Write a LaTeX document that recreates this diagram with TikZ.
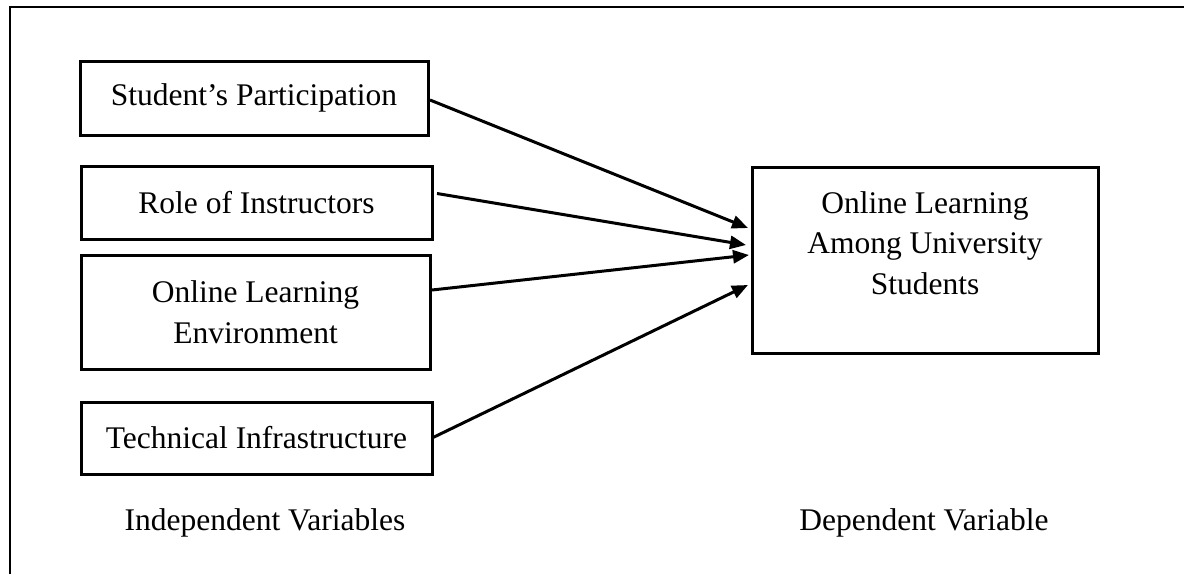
\documentclass[tikz,border=0pt]{standalone}
\usepackage{fontspec}
\setmainfont{Liberation Serif}
\usetikzlibrary{arrows.meta,calc}
\begin{document}
\begin{tikzpicture}[x=0.5pt,y=-0.5pt,
  every node/.style={font=\fontsize{15.75pt}{20.25pt}\selectfont, inner sep=0pt, outer sep=0pt},
  varbox/.style={draw, line width=1.5pt, align=center},
  conn/.style={line width=1.5pt, -{Triangle[length=8pt,width=6.5pt]}},
  frameline/.style={line width=1pt}]
\useasboundingbox (0,0) rectangle (1184,574);
% outer frame (top and left)
\coordinate (ftl) at (9.5,7);
\coordinate (ftr) at (1184,7);
\coordinate (fbl) at (9.5,574);
\draw[frameline] (ftr) -- (ftl) -- (fbl);
% independent variable boxes
\node[varbox, minimum width=174pt, minimum height=37pt] (b1) at (254,98) {Student’s Participation};
\node[varbox, minimum width=175.5pt, minimum height=36.5pt] (b2) at (256.5,202.5) {Role of Instructors};
\node[varbox, minimum width=174.5pt, minimum height=57pt] (b3) at (255.5,312) {Online Learning\\Environment};
\node[varbox, minimum width=175.5pt, minimum height=36pt] (b4) at (256.5,438) {Technical Infrastructure};
% dependent variable box
\node[varbox, minimum width=173pt, minimum height=93pt] (dv) at (925,260) {};
\node[align=center] (dvtext) at (925,243) {Online Learning\\Among University\\Students};
% captions
\node (ivcap) at (265,523) {Independent Variables};
\node (dvcap) at (924,523) {Dependent Variable};
% connector end points
\coordinate (s1) at ($(b1.east)+(2,2)$);
\coordinate (s2) at ($(b2.east)+(5,-9)$);
\coordinate (s3) at ($(b3.east)+(2,-22)$);
\coordinate (s4) at ($(b4.east)+(0,0)$);
\coordinate (e1) at ($(dv.west)+(-4,-32)$);
\coordinate (e2) at ($(dv.west)+(-6,-15)$);
\coordinate (e3) at ($(dv.west)+(-3,-5)$);
\coordinate (e4) at ($(dv.west)+(-4,25)$);
\draw[conn] (s1) -- (e1);
\draw[conn] (s2) -- (e2);
\draw[conn] (s3) -- (e3);
\draw[conn] (s4) -- (e4);
\end{tikzpicture}
\end{document}
